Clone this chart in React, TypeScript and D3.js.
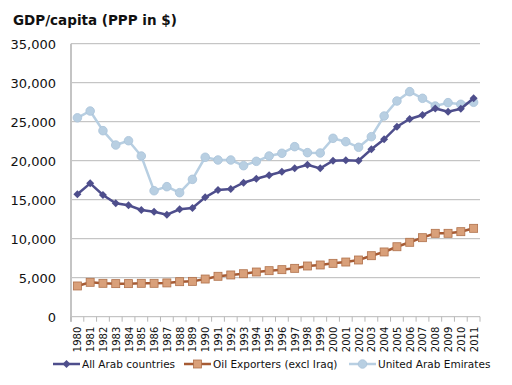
import React, { useEffect, useRef } from "react";
import * as d3 from "d3";

const years = d3.range(1980, 2012).map(String);
const allArab = [15700, 17100, 15600, 14550, 14280, 13680, 13460, 13080, 13770, 13940, 15300, 16240, 16370, 17180, 17690, 18130, 18590, 19020, 19490, 19020, 20000, 20050, 20000, 21460, 22740, 24360, 25350, 25850, 26700, 26280, 26650, 28000];
const oilExporters = [3940, 4410, 4280, 4240, 4240, 4280, 4280, 4330, 4490, 4530, 4830, 5180, 5350, 5510, 5730, 5900, 6030, 6200, 6500, 6630, 6840, 7010, 7270, 7820, 8300, 8970, 9540, 10130, 10690, 10690, 10900, 11330];
const uae = [25500, 26370, 23850, 22010, 22560, 20600, 16150, 16670, 15900, 17610, 20440, 20090, 20090, 19360, 19920, 20600, 20950, 21800, 21030, 20990, 22870, 22440, 21720, 23080, 25730, 27650, 28850, 28000, 27010, 27440, 27230, 27490];
const seriesNames = ["All Arab countries", "Oil Exporters (excl Iraq)", "United Arab Emirates"];
const yTicks = [0, 5000, 10000, 15000, 20000, 25000, 30000, 35000];

const App = () => {
  const ref = useRef<SVGSVGElement>(null);

  useEffect(() => {
    drawChart();
  }, []);

  const drawChart = () => {
    const w = 512;
    const h = 385;
    const font = "'DejaVu Sans', sans-serif";
    const svg = d3.select(ref.current).attr("width", w).attr("height", h);
    svg.selectAll("*").remove();

    const left = 71, right = 480, top = 43.7, bottom = 316.7;
    const x = d3.scaleBand().domain(years).range([left, right]);
    const y = d3.scaleLinear().domain([0, 35000]).range([bottom, top]);
    const cx = (d: string) => (x(d) as number) + x.bandwidth() / 2;

    svg.append("text")
      .attr("x", 13).attr("y", 25)
      .attr("font-family", font).attr("font-weight", "bold").attr("font-size", 13.5)
      .attr("fill", "#111")
      .text("GDP/capita (PPP in $)");

    // gridlines
    svg.append("g").selectAll("line")
      .data(yTicks)
      .enter().append("line")
      .attr("x1", left).attr("x2", right)
      .attr("y1", d => y(d)).attr("y2", d => y(d))
      .attr("stroke", "#b8b8b8").attr("stroke-width", 1);

    svg.append("line")
      .attr("x1", left).attr("x2", left).attr("y1", top).attr("y2", bottom + 5)
      .attr("stroke", "#c4c4c4").attr("stroke-width", 2);

    svg.append("g").selectAll("text")
      .data(yTicks)
      .enter().append("text")
      .attr("x", 56).attr("y", d => y(d) + 5)
      .attr("text-anchor", "end")
      .attr("font-family", font).attr("font-size", 13).attr("fill", "#111")
      .text(d => d3.format(",")(d));

    // x ticks
    const bounds = years.map(d => x(d) as number).concat([right]);
    svg.append("g").selectAll("line")
      .data(bounds)
      .enter().append("line")
      .attr("x1", d => d).attr("x2", d => d)
      .attr("y1", bottom).attr("y2", bottom + 5)
      .attr("stroke", "#b8b8b8");

    svg.append("g").selectAll("text")
      .data(years)
      .enter().append("text")
      .attr("transform", d => `translate(${cx(d) + 4},${bottom + 10}) rotate(-90)`)
      .attr("text-anchor", "end")
      .attr("font-family", font).attr("font-size", 10).attr("fill", "#111")
      .text(d => d);

    const line = d3.line<number>()
      .x((d, i) => cx(years[i]))
      .y(d => y(d));

    const series = [
      { values: uae, stroke: "#b8cfe2", fill: "#b8cfe2", marker: "circle" },
      { values: oilExporters, stroke: "#a65a33", fill: "#d9a07a", marker: "square" },
      { values: allArab, stroke: "#4e4e8c", fill: "#4e4e8c", marker: "diamond" },
    ];

    const drawMarker = (g: any, type: string, px: number, py: number, s: any) => {
      if (type === "circle") {
        g.append("circle").attr("cx", px).attr("cy", py).attr("r", 4.3)
          .attr("fill", s.fill).attr("stroke", "#a9c3d9").attr("stroke-width", 0.8);
      } else if (type === "square") {
        g.append("rect").attr("x", px - 4).attr("y", py - 4).attr("width", 8).attr("height", 8)
          .attr("fill", s.fill).attr("stroke", "#b0714b").attr("stroke-width", 0.8);
      } else {
        g.append("path")
          .attr("d", `M${px},${py - 4}L${px + 4},${py}L${px},${py + 4}L${px - 4},${py}Z`)
          .attr("fill", s.fill);
      }
    };

    series.forEach(s => {
      const g = svg.append("g");
      g.append("path")
        .attr("d", line(s.values))
        .attr("fill", "none").attr("stroke", s.stroke).attr("stroke-width", 2.5);
      s.values.forEach((v, i) => drawMarker(g, s.marker, cx(years[i]), y(v), s));
    });

    // legend
    const legendItems = [
      { name: seriesNames[0], s: series[2], x0: 53 },
      { name: seriesNames[1], s: series[1], x0: 184 },
      { name: seriesNames[2], s: series[0], x0: 349 },
    ];
    const ly = 364;
    legendItems.forEach(item => {
      const g = svg.append("g");
      g.append("line").attr("x1", item.x0).attr("x2", item.x0 + 27)
        .attr("y1", ly).attr("y2", ly)
        .attr("stroke", item.s.stroke).attr("stroke-width", 2.5);
      drawMarker(g, item.s.marker, item.x0 + 13.5, ly, item.s);
      g.append("text").attr("x", item.x0 + 29).attr("y", ly + 4)
        .attr("font-family", font).attr("font-size", 10.5).attr("fill", "#111")
        .text(item.name);
    });
  };

  return (
    <div>
      <svg ref={ref} style={{ position: "absolute", left: 0, top: 0 }}></svg>
    </div>
  );
};

export default App;
